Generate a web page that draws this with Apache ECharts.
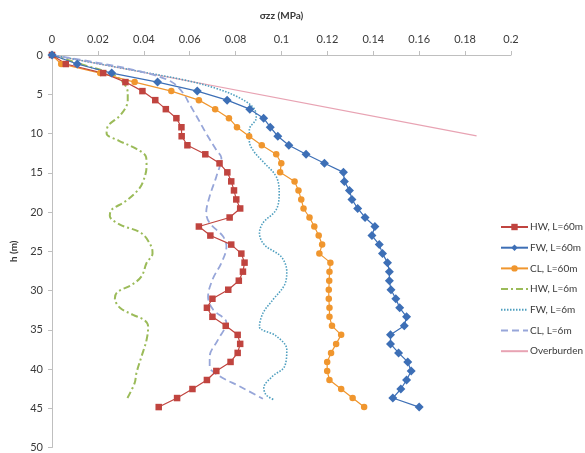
<!DOCTYPE html>
<html>
<head>
<meta charset="utf-8">
<script src="https://cdn.jsdelivr.net/npm/echarts@6/dist/echarts.min.js"></script>
<style>
  html, body { margin: 0; padding: 0; background: #ffffff; }
  #chart { width: 585px; height: 453px; }
</style>
</head>
<body>
<div id="chart"></div>
<script>
// Depths (m) of the L=60m profiles
const depths60 = [0, 1.15, 2.3, 3.45, 4.6, 5.75, 6.9, 8.05, 9.2, 10.35, 11.5, 12.65, 13.8, 14.95, 16.1, 17.25, 18.4, 19.55, 20.7, 21.85, 23.0, 24.15, 25.3, 26.45, 27.6, 28.75, 29.9, 31.05, 32.2, 33.35, 34.5, 35.65, 36.8, 37.95, 39.1, 40.25, 41.4, 42.55, 43.7, 44.85];

// Vertical stress σzz (MPa), L=60m
const hw60 = [0, 0.006, 0.0223, 0.032, 0.0394, 0.045, 0.0496, 0.0542, 0.0564, 0.0565, 0.059, 0.0668, 0.073, 0.0764, 0.0781, 0.0793, 0.0803, 0.082, 0.0774, 0.064, 0.069, 0.0781, 0.0825, 0.0839, 0.0832, 0.0814, 0.0768, 0.0699, 0.0675, 0.0699, 0.0757, 0.0809, 0.082, 0.0809, 0.0778, 0.0716, 0.0675, 0.0612, 0.0545, 0.0465];
const fw60 = [0, 0.011, 0.026, 0.046, 0.0633, 0.0763, 0.0862, 0.0922, 0.0951, 0.0984, 0.1032, 0.1107, 0.1187, 0.127, 0.1274, 0.1296, 0.1307, 0.1332, 0.1364, 0.1407, 0.1394, 0.1426, 0.144, 0.1462, 0.147, 0.147, 0.1477, 0.1498, 0.1515, 0.1545, 0.1535, 0.1475, 0.1475, 0.151, 0.155, 0.1565, 0.1545, 0.152, 0.1485, 0.160];
const cl60 = [0, 0.004, 0.021, 0.036, 0.052, 0.064, 0.0711, 0.0771, 0.0806, 0.0859, 0.0914, 0.0977, 0.0999, 0.0994, 0.1057, 0.1074, 0.1086, 0.1096, 0.1122, 0.1143, 0.1162, 0.1177, 0.1165, 0.1213, 0.1209, 0.1208, 0.1206, 0.1206, 0.1209, 0.1209, 0.122, 0.126, 0.1238, 0.1216, 0.1199, 0.1199, 0.1209, 0.126, 0.131, 0.136];

// L=6m profiles (smoothed curves)
const hw6Depth = [0, 1.2, 2.4, 3.5, 4.8, 5.8, 7.6, 9.0, 10.0, 10.9, 12.0, 13.0, 14.2, 16.1, 17.2, 18.7, 19.7, 20.5, 21.6, 22.7, 24.4, 25.3, 26.5, 28.2, 29.3, 30.2, 31.0, 32.2, 33.1, 33.8, 34.6, 36.3, 38.4, 40.5, 41.8, 43.9];
const hw6 = [0, 0.013, 0.026, 0.031, 0.033, 0.033, 0.030, 0.0245, 0.0238, 0.029, 0.037, 0.041, 0.0412, 0.0397, 0.0375, 0.0317, 0.026, 0.0252, 0.0296, 0.039, 0.0433, 0.0438, 0.0412, 0.039, 0.0346, 0.0285, 0.0274, 0.0296, 0.0353, 0.0404, 0.0419, 0.0412, 0.039, 0.0368, 0.036, 0.0325];

const fw6Depth = [0, 1.1, 2.2, 3.2, 4.3, 5.5, 6.8, 8.0, 9.5, 11.0, 12.3, 13.6, 15.5, 17.5, 19.7, 21.4, 22.7, 24.2, 25.7, 27.6, 29.3, 31.2, 32.9, 34.6, 35.8, 37.5, 39.7, 40.9, 42.4, 43.3, 43.9];
const fw6 = [0, 0.02, 0.04, 0.058, 0.072, 0.082, 0.088, 0.089, 0.086, 0.086, 0.088, 0.092, 0.0977, 0.099, 0.0977, 0.0919, 0.0904, 0.0926, 0.0999, 0.1023, 0.1013, 0.0962, 0.0919, 0.0904, 0.0977, 0.1023, 0.1013, 0.0962, 0.0923, 0.0933, 0.0965];

const cl6Depth = [0, 1.0, 2.2, 3.4, 4.8, 6.3, 7.8, 10.0, 12.1, 13.1, 15.5, 18.0, 20.1, 21.4, 23.1, 24.4, 26.5, 28.5, 30.8, 32.4, 34.1, 36.3, 38.4, 39.7, 40.9, 42.2, 43.8];
const cl6 = [0, 0.02, 0.04, 0.052, 0.057, 0.06, 0.063, 0.0672, 0.0716, 0.0738, 0.0716, 0.0687, 0.0672, 0.0687, 0.0745, 0.076, 0.0738, 0.0701, 0.068, 0.0701, 0.076, 0.0723, 0.0687, 0.0687, 0.073, 0.0817, 0.0919];

// Overburden stress line
const overDepth = [0, 10.3];
const overburden = [0, 0.185];

// Axis ticks
const xTicks = [0, 0.02, 0.04, 0.06, 0.08, 0.1, 0.12, 0.14, 0.16, 0.18, 0.2];
const yTicks = [0, 5, 10, 15, 20, 25, 30, 35, 40, 45, 50];

const pairs = (vals, deps) => vals.map((v, i) => [v, deps[i]]);

const FONT = 'Lato, "Liberation Sans", sans-serif';
const TXT = '#3a3a3a';
const AXIS = '#bfbfbf';

const chart = echarts.init(document.getElementById('chart'), null, { renderer: 'canvas' });

function markerSeries(name, vals, color, symbol, size) {
  return {
    name, type: 'line', data: pairs(vals, depths60),
    symbol, symbolSize: size,
    itemStyle: { color },
    lineStyle: { color, width: 1.2 },
    emphasis: { disabled: true }
  };
}

function curveSeries(name, vals, deps, color, type, width) {
  return {
    name, type: 'line', data: pairs(vals, deps),
    symbol: 'none', smooth: 0.35,
    itemStyle: { color },
    lineStyle: { color, width, type },
    emphasis: { disabled: true }
  };
}

// Legend entries; plain curves show only their line
const legendNames = ['HW, L=60m', 'FW, L=60m', 'CL, L=60m', 'HW, L=6m', 'FW, L=6m', 'CL, L=6m', 'Overburden'];
const lineOnly = ['HW, L=6m', 'FW, L=6m', 'CL, L=6m', 'Overburden'];

chart.setOption({
  animation: false,
  backgroundColor: '#ffffff',
  grid: { left: 52, right: 74, top: 55, bottom: 5, containLabel: false },
  xAxis: {
    type: 'value', position: 'top',
    min: xTicks[0], max: xTicks[xTicks.length - 1], interval: 0.02,
    name: 'σzz (MPa)', nameLocation: 'middle', nameGap: 34,
    nameTextStyle: { fontFamily: FONT, fontSize: 10, fontWeight: 'bold', color: TXT },
    axisLine: { show: true, lineStyle: { color: AXIS, width: 1 } },
    axisTick: { show: true, length: 4, lineStyle: { color: AXIS } },
    axisLabel: {
      fontFamily: FONT, fontSize: 11, color: TXT, margin: 10,
      formatter: v => String(+v.toFixed(2))
    },
    splitLine: { show: false }
  },
  yAxis: {
    type: 'value', inverse: true,
    min: yTicks[0], max: yTicks[yTicks.length - 1], interval: 5,
    name: 'h (m)', nameLocation: 'middle', nameGap: 33, nameRotate: 90,
    nameTextStyle: { fontFamily: FONT, fontSize: 10, fontWeight: 'bold', color: TXT },
    axisLine: { show: true, lineStyle: { color: AXIS, width: 1 } },
    axisTick: { show: true, length: 4, lineStyle: { color: AXIS } },
    axisLabel: { fontFamily: FONT, fontSize: 11, color: TXT, margin: 9 },
    splitLine: { show: false }
  },
  legend: {
    orient: 'vertical', left: 495, top: 217,
    itemWidth: 27, itemHeight: 8, itemGap: 10.7,
    textStyle: { fontFamily: FONT, fontSize: 10, color: TXT, padding: [0, 0, 0, -3] },
    data: legendNames.map(n => lineOnly.includes(n) ? { name: n, itemStyle: { opacity: 0 } } : n)
  },
  series: [
    curveSeries('Overburden', overburden, overDepth, '#e8a3b3', 'solid', 1.2),
    curveSeries('HW, L=6m', hw6, hw6Depth, '#9bbb59', [7, 3, 2, 3], 2),
    curveSeries('FW, L=6m', fw6, fw6Depth, '#4f9fbf', [1.5, 1.5], 1.6),
    curveSeries('CL, L=6m', cl6, cl6Depth, '#97a6d9', [7, 4], 1.8),
    markerSeries('CL, L=60m', cl60, '#f0962e', 'circle', 6.5),
    markerSeries('HW, L=60m', hw60, '#c0443f', 'rect', 6.5),
    markerSeries('FW, L=60m', fw60, '#3d6fb6', 'diamond', 9)
  ]
});
</script>
</body>
</html>
